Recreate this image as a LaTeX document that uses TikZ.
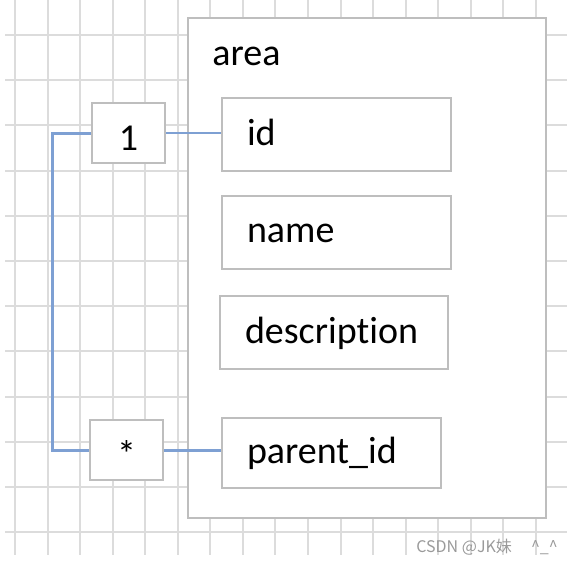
\documentclass[tikz,border=0pt]{standalone}
\usepackage{fontspec}
\setmainfont{Carlito}[Ligatures=NoCommon]
\newfontfamily\cjkfont{Noto Sans CJK SC}
\usetikzlibrary{positioning}
\definecolor{gridgray}{HTML}{DCDCDC}
\definecolor{boxgray}{HTML}{BEBEBE}
\definecolor{linkblue}{HTML}{7EA0D3}
\definecolor{markgray}{HTML}{9A9A9A}

\begin{document}
\begin{tikzpicture}[x=0.5pt,y=-0.5pt]
\tikzstyle{every node}+=[inner sep=0pt,font=\fontsize{19}{23}\selectfont]
\tikzstyle{gridline}=[draw=gridgray,line width=1pt]
\tikzstyle{table}=[draw=boxgray,line width=1pt,fill=white]
\tikzstyle{field}=[table,minimum height=36.5pt,inner xsep=12.5pt,align=left,
  text height=14pt,text depth=3.5pt]
\tikzstyle{mult}=[table,minimum width=36.5pt,minimum height=30pt,
  text height=18pt,text depth=1pt]
\tikzstyle{link}=[draw=linkblue,line width=1.5pt]
\useasboundingbox (0,0) rectangle (572,564);
% grid
\foreach \i in {0,...,16}
  \draw[gridline] (15+32.55*\i,0) -- (15+32.55*\i,555);
\foreach \j in {0,...,11}
  \draw[gridline] (5,35+45.2*\j) -- (567,35+45.2*\j);
% table and its fields
\node[table,minimum width=179pt,minimum height=250pt] (area) at (367,268) {};
\node[anchor=base west] (areaname) at (212,65) {area};
\node[field,text width=89.5pt] (id) at (336.5,134.5) {id};
\node[field,text width=89.5pt] (name) at (336.5,232) {name};
\node[field,text width=89pt] (desc) at (334,332.5) {description};
\node[field,text width=84.5pt,minimum height=35pt] (pid) at (331.5,453) {parent\_id};
% relation
\node[mult] (one) at (128.5,133) {1};
\node[mult] (many) at (126.5,450) {*};
\draw[link] (one.west) -- ++(-39,0) |- (many.west);
\draw[link,line width=1pt] (one.east) -- (one.east -| id.west);
\draw[link] (many.east) -- (many.east -| pid.west);
\node[anchor=base west,text=markgray,font=\cjkfont\fontsize{8}{10}\selectfont] (csdn)
  at (416,552) {CSDN @JK妹\hspace{1.2em}\textasciicircum\_\textasciicircum};
\end{tikzpicture}
\end{document}
